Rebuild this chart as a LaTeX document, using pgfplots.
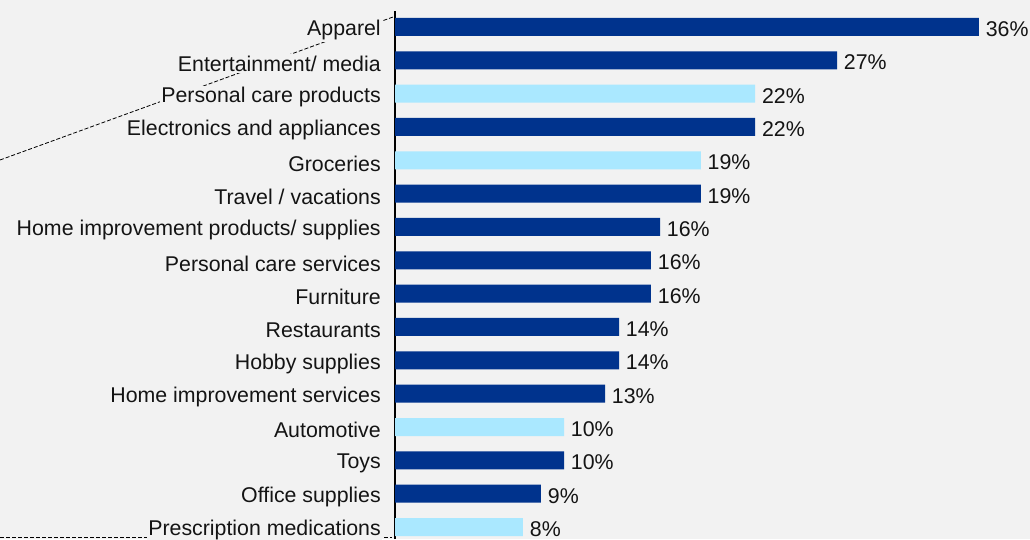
\documentclass[border=0pt]{standalone}
\usepackage{fontspec}
\setmainfont{Liberation Sans}
\usepackage{pgfplots}
\pgfplotsset{compat=1.18}
\usepackage{pgfplotstable}
\definecolor{bg}{RGB}{242,242,242}
\definecolor{dblue}{RGB}{0,51,141}
\definecolor{lblue}{RGB}{170,232,255}
\definecolor{txt}{RGB}{20,20,20}

\pgfplotstableread{
y val lab
15 36.0 36
14 27.25 27
12 22.2 22
10 18.85 19
9 16.34 16
8 15.78 16
7 15.78 16
6 13.81 14
5 13.81 14
4 12.95 13
2 10.42 10
1 9.0 9
}\darkdata

\pgfplotstableread{
y val lab
13 22.2 22
11 18.85 19
3 10.42 10
0 7.89 8
}\lightdata

\begin{document}
\begin{tikzpicture}
\fill[bg] (0,0) rectangle (772.5pt,404.25pt);
\useasboundingbox (0,0) rectangle (772.5pt,404.25pt);
\draw[black, line width=0.6pt, dash pattern=on 3pt off 1.5pt] (0pt,284.25pt) -- (294.75pt,391.5pt);
\draw[black, line width=0.6pt, dash pattern=on 3pt off 1.5pt] (0pt,1.5pt) -- (294pt,1.5pt);
\begin{axis}[
  anchor=origin, at={(296.25pt,9pt)},
  x=12.165pt, y=25pt,
  xmin=0, xmax=36, ymin=-0.36, ymax=15.48,
  axis x line=none, axis y line*=left,
  axis line style={-, black, line width=1.1pt},
  xbar, bar width=13.5pt, bar shift=0pt,
  ytick={0,...,15},
  yticklabels={Prescription medications, Office supplies, Toys, Automotive, Home improvement services, Hobby supplies, Restaurants, Furniture, Personal care services, Home improvement products/ supplies, Travel / vacations, Groceries, Electronics and appliances, Personal care products, Entertainment/ media, Apparel},
  major tick length=0pt,
  yticklabel style={anchor=east, fill=bg, inner sep=1pt, xshift=-9.5pt, yshift=-2.5pt, text=txt, font=\fontsize{16}{19}\selectfont},
  point meta=explicit symbolic,
  nodes near coords={\pgfplotspointmeta\%},
  nodes near coords style={anchor=west, inner sep=1pt, xshift=4pt, yshift=-1.5pt, text=txt, font=\fontsize{16}{19}\selectfont},
  clip=false,
]
\addplot[draw=none, fill=dblue] table[x=val, y=y, meta=lab] {\darkdata};
\addplot[draw=none, fill=lblue] table[x=val, y=y, meta=lab] {\lightdata};
\end{axis}
\end{tikzpicture}
\end{document}
